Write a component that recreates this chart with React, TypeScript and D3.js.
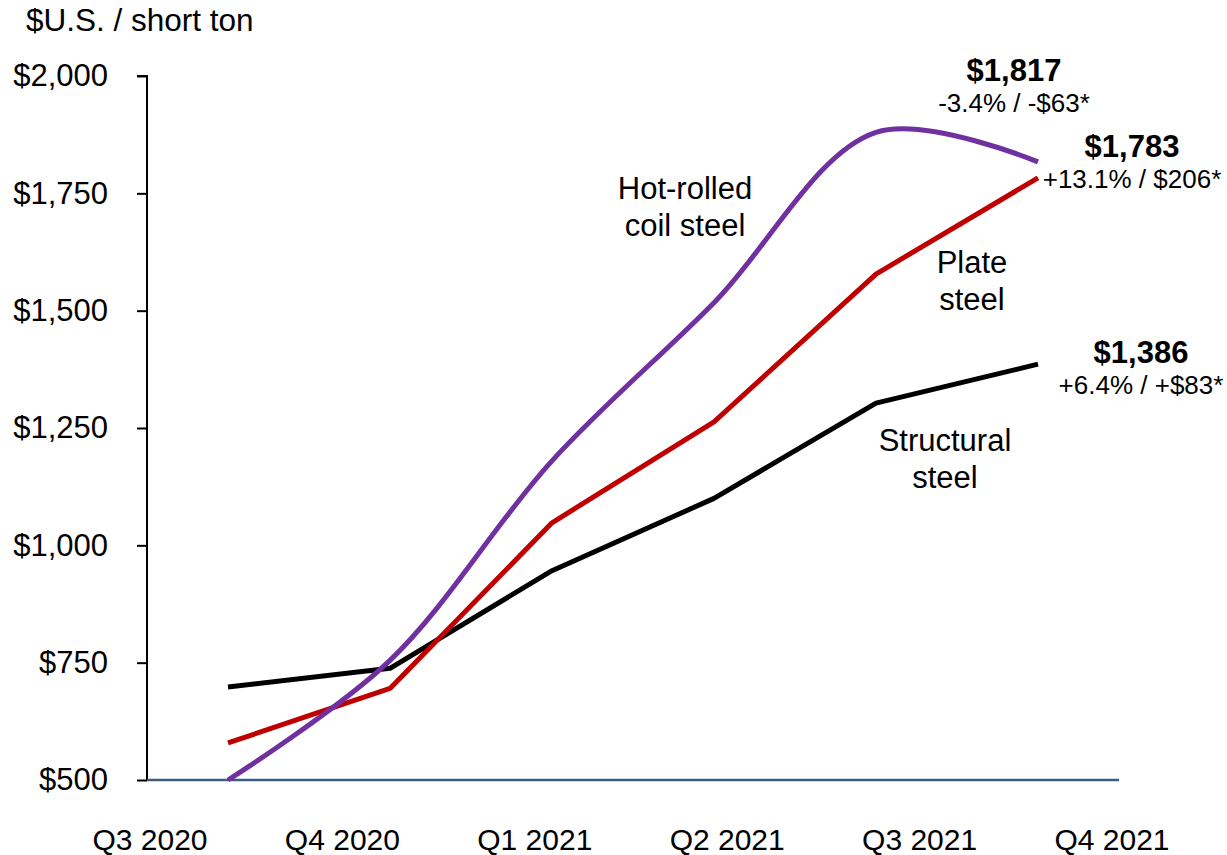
import React, { useEffect, useRef } from 'react';
import * as d3 from 'd3';

// quarters on the x axis
const quarters = ['Q3 2020', 'Q4 2020', 'Q1 2021', 'Q2 2021', 'Q3 2021', 'Q4 2021'];

// $U.S. per short ton
const hotRolled = [500, 755, 1180, 1517, 1880, 1817];
const plate = [579, 695, 1048, 1263, 1578, 1783];
const structural = [698, 738, 946, 1100, 1303, 1386];

const yTicks = [500, 750, 1000, 1250, 1500, 1750, 2000];

const FONT = 'Arial, "Liberation Sans", Helvetica, sans-serif';

const App: React.FC = () => {
  const ref = useRef<SVGSVGElement | null>(null);

  useEffect(() => {
    const width = 1227, height = 855;
    const svg = d3.select(ref.current)
      .attr('width', width)
      .attr('height', height);

    svg.selectAll('*').remove();

    const left = 147, right = 1119, top = 76, bottom = 780;

    const x = d3.scaleBand<string>()
      .domain(quarters)
      .range([left, right]);
    const px = (q: string) => (x(q) as number) + x.bandwidth() / 2;

    // category labels sit on their own, wider spacing
    const xLabel = d3.scalePoint<string>()
      .domain(quarters)
      .range([150, 1112]);

    const y = d3.scaleLinear()
      .domain([500, 2000])
      .range([bottom, top]);

    // title
    svg.append('text')
      .attr('x', 26)
      .attr('y', 31)
      .style('font-family', FONT)
      .style('font-size', '31.5px')
      .attr('fill', '#000')
      .text('$U.S. / short ton');

    // y axis
    const yAxis = svg.append('g')
      .attr('transform', `translate(${left},0)`)
      .call(
        d3.axisLeft(y)
          .tickValues(yTicks)
          .tickSize(10)
          .tickPadding(29)
          .tickFormat((d) => '$' + d3.format(',')(d as number))
      );
    yAxis.select('.domain').attr('stroke', '#000').attr('stroke-width', 2).attr('d', `M-10,${top}H0V${bottom}`);
    yAxis.selectAll('.tick line').attr('stroke', '#000').attr('stroke-width', 2);
    yAxis.selectAll('.tick text')
      .style('font-family', FONT)
      .style('font-size', '31px')
      .attr('fill', '#000');

    // baseline
    svg.append('line')
      .attr('x1', left)
      .attr('x2', right)
      .attr('y1', y(500))
      .attr('y2', y(500))
      .attr('stroke', '#3E5C7E')
      .attr('stroke-width', 2.5);

    // x labels
    svg.append('g')
      .selectAll('text')
      .data(quarters)
      .join('text')
      .attr('x', (d) => xLabel(d) as number)
      .attr('y', 850)
      .attr('text-anchor', 'middle')
      .style('font-family', FONT)
      .style('font-size', '30px')
      .attr('fill', '#000')
      .text((d) => d);

    const series = [
      { values: structural, color: '#000000', curve: d3.curveLinear },
      { values: plate, color: '#C00000', curve: d3.curveLinear },
      { values: hotRolled, color: '#7030A0', curve: d3.curveCatmullRom.alpha(0.5) },
    ];

    series.forEach((s) => {
      const line = d3.line<number>()
        .x((_, i) => px(quarters[i]))
        .y((d) => y(d))
        .curve(s.curve);
      svg.append('path')
        .attr('d', line(s.values) as string)
        .attr('fill', 'none')
        .attr('stroke', s.color)
        .attr('stroke-width', 5)
        .attr('stroke-linejoin', 'round');
    });

    // series labels
    const labels = [
      { lines: ['Hot-rolled', 'coil steel'], x: 685, y: 199 },
      { lines: ['Plate', 'steel'], x: 972, y: 273 },
      { lines: ['Structural', 'steel'], x: 945, y: 451 },
    ];
    labels.forEach((l) => {
      l.lines.forEach((t, i) => {
        svg.append('text')
          .attr('x', l.x)
          .attr('y', l.y + i * 37)
          .attr('text-anchor', 'middle')
          .style('font-family', FONT)
          .style('font-size', '31px')
          .attr('fill', '#000')
          .text(t);
      });
    });

    // end-value callouts
    const callouts = [
      { value: '$1,817', change: '-3.4% / -$63*', x: 1014, y: 81 },
      { value: '$1,783', change: '+13.1% / $206*', x: 1132, y: 157 },
      { value: '$1,386', change: '+6.4% / +$83*', x: 1141, y: 363 },
    ];
    callouts.forEach((c) => {
      svg.append('text')
        .attr('x', c.x)
        .attr('y', c.y)
        .attr('text-anchor', 'middle')
        .style('font-family', FONT)
        .style('font-size', '31px')
        .style('font-weight', 'bold')
        .attr('fill', '#000')
        .text(c.value);
      svg.append('text')
        .attr('x', c.x)
        .attr('y', c.y + 31)
        .attr('text-anchor', 'middle')
        .style('font-family', FONT)
        .style('font-size', '26px')
        .attr('fill', '#000')
        .text(c.change);
    });
  }, []);

  return (
    <svg
      ref={ref}
      style={{ position: 'absolute', left: 0, top: 0, background: '#fff' }}
    ></svg>
  );
};

export default App;
